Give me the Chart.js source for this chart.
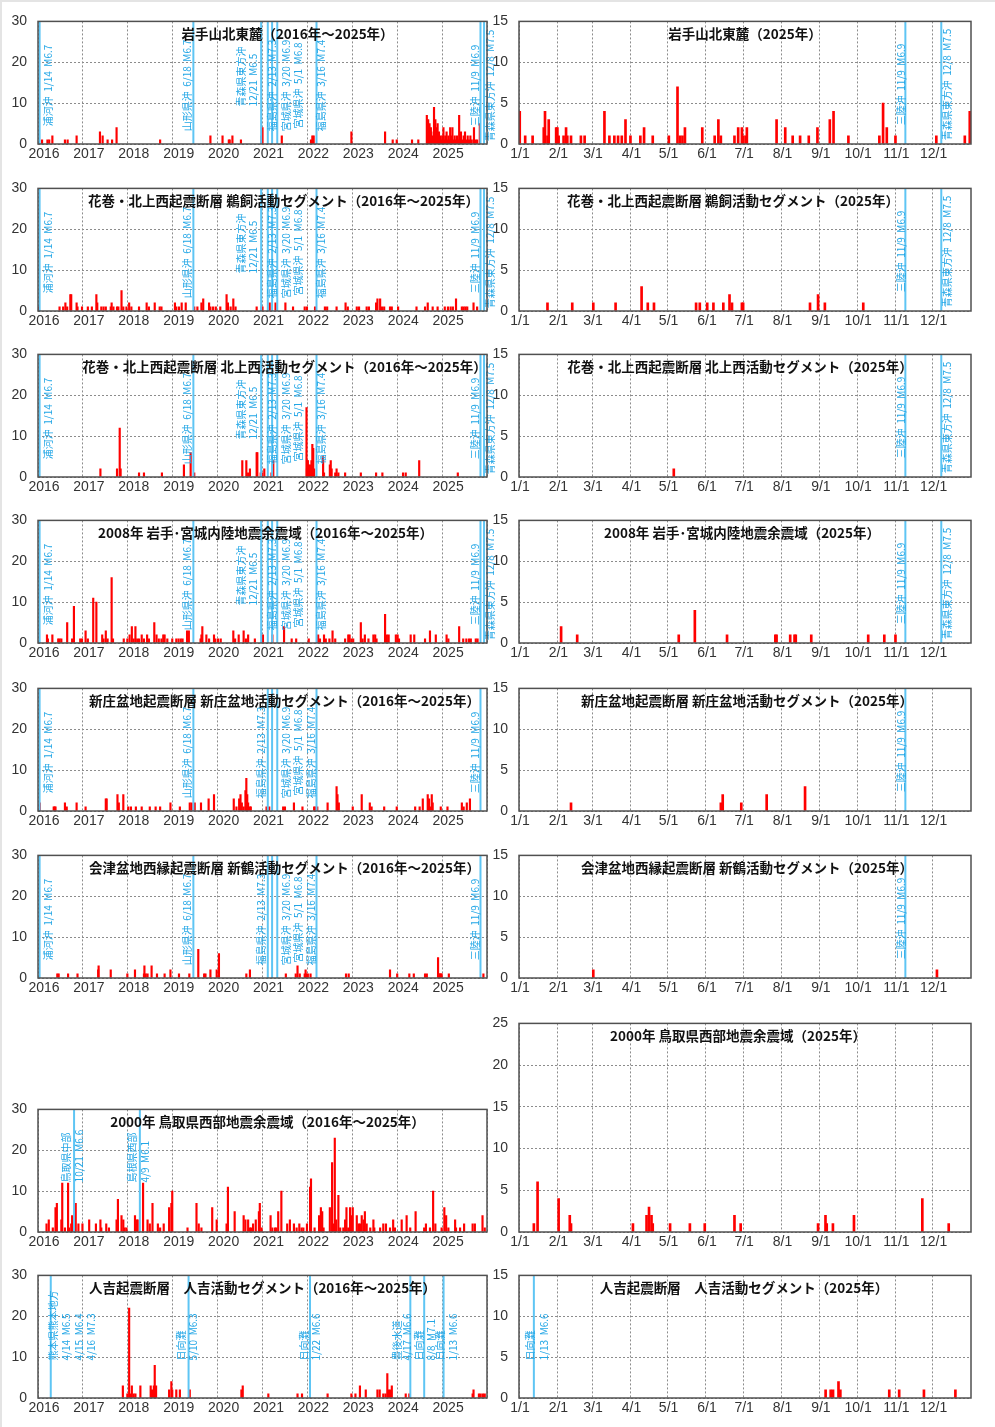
<!DOCTYPE html>
<html>
<head>
<meta charset="utf-8">
<script src="https://cdn.jsdelivr.net/npm/chart.js@4.4.1/dist/chart.umd.min.js"></script>
<style>
  body { margin: 0; background: #fff; width: 995px; height: 1427px; position: relative; overflow: hidden; }
  .edge { position: absolute; left: 0; top: 0; width: 993px; height: 1425px; border-left: 2px solid #e4e4e4; border-top: 2px solid #e4e4e4; }
  .box { position: absolute; }
</style>
</head>
<body>
<div class="edge"></div>
<script>
"use strict";

// axes
const yearTicks = [2016, 2017, 2018, 2019, 2020, 2021, 2022, 2023, 2024, 2025, 2026];
const monthDays = [0, 31, 59, 90, 120, 151, 181, 212, 243, 273, 304, 334];
const monthLabels = ["1/1", "2/1", "3/1", "4/1", "5/1", "6/1", "7/1", "8/1", "9/1", "10/1", "11/1", "12/1"];

// large earthquakes drawn as vertical lines
const tohokuQuakeDates = ["2016-01-14", "2019-06-18", "2020-12-21", "2021-02-13", "2021-03-20", "2021-05-01", "2022-03-16", "2025-11-09", "2025-12-08"];
const tohokuQuakeNames = [
  ["浦河沖  1/14  M6.7"], ["山形県沖  6/18  M6.7"], ["青森県東方沖", "12/21  M6.5"], ["福島県沖  2/13  M7.3"],
  ["宮城県沖  3/20  M6.9"], ["宮城県沖  5/1  M6.8"], ["福島県沖  3/16  M7.4"], ["三陸沖  11/9  M6.9"], ["青森県東方沖  12/8  M7.5"]
];
const tottoriQuakeDates = ["2016-10-21", "2018-04-09"];
const tottoriQuakeNames = [["鳥取県中部", "10/21  M6.6"], ["島根県西部", "4/9  M6.1"]];
const kyushuQuakeDates = ["2016-04-14", "2019-05-10", "2022-01-22", "2024-04-17", "2024-08-08", "2025-01-13"];
const kyushuQuakeNames = [
  ["熊本県熊本地方", "4/14  M6.5", "4/15  M6.4", "4/16  M7.3"], ["日向灘", "5/10  M6.3"], ["日向灘", "1/22  M6.6"],
  ["豊後水道", "4/17  M6.6"], ["日向灘", "8/8  M7.1"], ["日向灘", "1/13  M6.6"]
];

// daily counts, 2016-2025 panels: [decimal year, count]
const iwateDecade = [
  [2016.09,1],[2016.21,1],[2016.25,1],[2016.32,2],[2016.60,1],[2016.66,1],[2016.86,2],[2017.38,3],[2017.44,2],[2017.55,1],
  [2017.65,1],[2017.75,4],[2018.72,1],[2019.84,2],[2020.11,2],[2020.25,1],[2020.27,1],[2020.33,2],[2020.52,1],[2020.98,2],
  [2021.00,4],[2021.43,2],[2022.08,1],[2022.11,2],[2022.14,2],[2022.98,3],[2023.73,3],[2023.90,1],[2023.99,1],[2024.33,1],
  [2024.47,1],[2024.66,7],[2024.67,2],[2024.69,6],[2024.70,3],[2024.72,5],[2024.73,2],[2024.75,4],[2024.76,3],[2024.79,2],
  [2024.82,9],[2024.83,3],[2024.85,6],[2024.86,2],[2024.88,4],[2024.90,5],[2024.91,2],[2024.93,3],[2024.95,1],[2024.97,2],
  [2024.99,1],[2025.01,2],[2025.03,4],[2025.05,1],[2025.07,2],[2025.10,3],[2025.12,1],[2025.14,2],[2025.16,1],[2025.18,4],
  [2025.21,2],[2025.23,4],[2025.25,1],[2025.28,2],[2025.31,1],[2025.33,2],[2025.36,1],[2025.38,7],[2025.40,2],[2025.42,3],
  [2025.45,1],[2025.48,2],[2025.51,3],[2025.54,1],[2025.57,2],[2025.60,1],[2025.63,2],[2025.66,1],[2025.71,4],[2025.74,1],
  [2025.78,1],[2025.84,5]
];
const ukaiDecade = [
  [2016.02,1],[2016.48,1],[2016.56,1],[2016.61,2],[2016.65,1],[2016.72,4],[2016.74,4],[2016.86,2],[2016.88,1],[2016.98,1],
  [2017.11,1],[2017.20,1],[2017.30,4],[2017.32,2],[2017.41,1],[2017.46,1],[2017.51,1],[2017.62,1],[2017.64,2],[2017.68,1],
  [2017.76,1],[2017.79,1],[2017.86,5],[2017.90,1],[2017.97,1],[2018.03,2],[2018.08,1],[2018.25,1],[2018.42,2],[2018.47,1],
  [2018.60,2],[2018.71,1],[2018.75,1],[2019.05,2],[2019.08,1],[2019.14,1],[2019.20,2],[2019.29,2],[2019.48,1],[2019.55,1],
  [2019.64,2],[2019.68,3],[2019.81,2],[2019.84,1],[2019.90,1],[2019.96,1],[2020.06,1],[2020.20,4],[2020.23,2],[2020.29,1],
  [2020.35,3],[2020.40,1],[2020.87,1],[2020.98,1],[2021.00,1],[2021.16,2],[2021.29,2],[2021.51,2],[2021.68,1],[2021.94,1],
  [2021.99,1],[2022.17,1],[2022.39,1],[2022.44,1],[2022.65,1],[2022.85,2],[2022.90,1],[2023.10,1],[2023.15,1],[2023.32,1],
  [2023.37,1],[2023.53,2],[2023.56,3],[2023.62,3],[2023.66,1],[2023.71,1],[2023.84,1],[2023.88,1],[2024.02,1],[2024.43,1],
  [2024.62,1],[2024.68,2],[2024.79,1],[2024.90,1],[2025.06,1],[2025.13,1],[2025.19,1],[2025.24,1],[2025.31,3],[2025.44,1],
  [2025.48,1],[2025.52,1],[2025.56,1],[2025.70,2],[2025.78,1]
];
const kitakamiDecade = [
  [2017.39,2],[2017.76,2],[2017.82,12],[2017.84,2],[2018.25,1],[2018.36,1],[2018.76,1],[2019.25,3],[2019.40,6],[2019.48,1],
  [2020.55,4],[2020.64,4],[2020.68,1],[2020.72,2],[2020.87,6],[2020.885,6],[2020.96,1],[2020.99,1],[2021.04,2],[2021.20,1],
  [2021.24,4],[2021.98,17],[2021.99,2],[2022.00,4],[2022.01,4],[2022.02,3],[2022.04,2],[2022.06,3],[2022.09,4],[2022.11,8],
  [2022.13,7],[2022.15,2],[2022.35,5],[2022.37,1],[2022.50,3],[2022.52,4],[2022.54,2],[2022.62,1],[2022.65,2],[2022.69,1],
  [2022.84,1],[2023.19,1],[2023.53,1],[2023.67,1],[2024.13,1],[2024.19,1],[2024.49,4],[2025.35,1]
];
const iwamiyaDecade = [
  [2016.20,2],[2016.22,1],[2016.32,2],[2016.45,1],[2016.48,1],[2016.52,1],[2016.65,5],[2016.76,1],[2016.80,9],[2016.94,1],
  [2016.98,1],[2017.06,3],[2017.11,1],[2017.23,11],[2017.30,10],[2017.43,2],[2017.46,1],[2017.51,3],[2017.55,1],[2017.64,16],
  [2017.67,1],[2017.91,1],[2017.99,1],[2018.04,2],[2018.09,4],[2018.13,1],[2018.17,4],[2018.21,1],[2018.25,1],[2018.31,2],
  [2018.36,1],[2018.43,2],[2018.47,1],[2018.59,5],[2018.64,2],[2018.69,1],[2018.75,1],[2018.79,2],[2018.82,2],[2018.88,1],
  [2018.99,1],[2019.08,1],[2019.13,1],[2019.18,1],[2019.22,1],[2019.32,3],[2019.36,3],[2019.62,1],[2019.64,2],[2019.66,4],
  [2019.75,2],[2019.81,1],[2019.92,2],[2019.95,1],[2020.01,1],[2020.07,1],[2020.35,3],[2020.39,1],[2020.47,2],[2020.58,3],
  [2020.63,1],[2020.68,2],[2020.83,1],[2021.01,2],[2021.22,2],[2021.48,4],[2021.65,1],[2021.75,1],[2022.03,1],[2022.24,2],
  [2022.28,1],[2022.37,2],[2022.41,1],[2022.49,1],[2022.56,3],[2022.62,1],[2022.84,1],[2022.91,2],[2022.94,2],[2022.98,1],
  [2023.02,1],[2023.19,5],[2023.23,1],[2023.28,2],[2023.36,1],[2023.47,2],[2023.51,2],[2023.54,1],[2023.73,7],[2023.77,2],
  [2023.81,2],[2023.97,2],[2024.01,2],[2024.04,1],[2024.30,2],[2024.38,2],[2024.62,1],[2024.73,3],[2024.86,2],[2025.10,2],
  [2025.14,1],[2025.38,4],[2025.47,1],[2025.54,1],[2025.60,1],[2025.64,1],[2025.75,1],[2025.79,1]
];
const shinjoDecade = [
  [2016.04,2],[2016.35,1],[2016.37,1],[2016.39,1],[2016.60,2],[2016.64,1],[2016.86,2],[2017.06,1],[2017.51,3],[2017.53,3],
  [2017.77,4],[2017.80,2],[2017.90,4],[2018.01,1],[2018.07,1],[2018.18,1],[2018.31,1],[2018.49,1],[2018.62,1],[2018.72,1],
  [2018.95,2],[2019.16,1],[2019.38,2],[2019.42,2],[2019.49,2],[2019.63,2],[2019.80,3],[2019.92,4],[2020.36,3],[2020.42,1],
  [2020.48,3],[2020.51,4],[2020.54,2],[2020.58,1],[2020.62,5],[2020.64,8],[2020.66,4],[2020.68,2],[2020.72,1],[2020.74,1],
  [2021.09,1],[2021.15,1],[2021.46,1],[2021.50,1],[2021.70,2],[2021.89,1],[2022.15,1],[2022.18,1],[2022.22,1],[2022.45,2],
  [2022.65,6],[2022.67,4],[2022.70,2],[2023.01,1],[2023.21,4],[2023.39,2],[2023.43,1],[2023.71,1],[2023.99,1],[2024.40,1],
  [2024.50,1],[2024.57,3],[2024.68,4],[2024.71,3],[2024.73,1],[2024.77,4],[2024.79,2],[2024.97,1],[2025.12,1],[2025.44,2],
  [2025.48,1],[2025.55,2],[2025.62,3]
];
const aizuDecade = [
  [2016.43,1],[2016.46,1],[2016.67,1],[2016.88,1],[2017.34,2],[2017.35,3],[2017.62,2],[2017.99,1],[2018.16,2],[2018.36,1],
  [2018.37,3],[2018.40,1],[2018.44,1],[2018.53,3],[2018.65,1],[2018.82,1],[2018.95,2],[2019.14,1],[2019.37,1],[2019.57,7],
  [2019.70,1],[2019.73,1],[2019.84,2],[2019.98,2],[2020.03,6],[2020.64,1],[2020.72,2],[2021.52,1],[2021.74,1],[2021.78,3],
  [2021.83,1],[2021.94,1],[2021.96,2],[2021.97,1],[2022.01,1],[2022.07,1],[2022.86,1],[2022.92,1],[2023.84,2],[2024.00,1],
  [2024.27,1],[2024.37,1],[2024.62,1],[2024.66,1],[2024.91,5],[2024.93,1],[2024.95,1],[2024.97,1],[2024.99,1],[2025.15,1],
  [2025.92,1]
];
const tottoriDecade = [
  [2016.19,2],[2016.24,3],[2016.33,1],[2016.39,6],[2016.42,7],[2016.52,3],[2016.54,12],[2016.60,1],[2016.67,12],[2016.69,1],
  [2016.74,2],[2016.76,4],[2016.84,7],[2016.90,2],[2016.99,2],[2017.14,3],[2017.29,2],[2017.39,3],[2017.41,1],[2017.52,2],
  [2017.58,1],[2017.75,3],[2017.78,8],[2017.86,4],[2017.90,3],[2017.93,1],[2017.97,1],[2018.16,4],[2018.20,3],[2018.22,3],
  [2018.34,12],[2018.44,3],[2018.49,2],[2018.55,7],[2018.67,2],[2018.72,1],[2018.80,2],[2018.92,6],[2018.97,7],[2018.99,10],
  [2019.33,1],[2019.53,7],[2019.58,2],[2019.64,1],[2019.88,6],[2019.98,3],[2020.20,2],[2020.23,11],[2020.38,5],[2020.58,4],
  [2020.62,3],[2020.68,3],[2020.72,1],[2020.75,1],[2020.79,2],[2020.85,3],[2020.92,5],[2020.94,7],[2020.98,1],[2021.18,4],
  [2021.22,1],[2021.28,1],[2021.31,1],[2021.35,5],[2021.42,10],[2021.55,2],[2021.61,3],[2021.70,2],[2021.76,1],[2021.82,2],
  [2021.87,1],[2021.91,1],[2021.99,2],[2022.06,11],[2022.08,13],[2022.16,1],[2022.26,4],[2022.30,6],[2022.33,5],[2022.36,1],
  [2022.50,6],[2022.55,17],[2022.57,2],[2022.61,23],[2022.64,3],[2022.69,9],[2022.73,1],[2022.80,1],[2022.84,3],[2022.87,6],
  [2022.91,1],[2022.95,6],[2022.99,4],[2023.01,6],[2023.10,4],[2023.14,2],[2023.17,2],[2023.21,4],[2023.25,3],[2023.28,5],
  [2023.32,2],[2023.40,1],[2023.47,3],[2023.49,1],[2023.62,1],[2023.69,2],[2023.75,2],[2023.84,1],[2023.91,3],[2023.95,1],
  [2024.10,3],[2024.21,4],[2024.29,1],[2024.41,5],[2024.60,1],[2024.64,2],[2024.73,1],[2024.80,10],[2024.85,2],[2024.99,1],
  [2025.05,6],[2025.09,4],[2025.14,1],[2025.29,3],[2025.31,1],[2025.40,1],[2025.49,2],[2025.68,2],[2025.73,2],[2025.90,4],
  [2025.95,1]
];
const hitoyoshiDecade = [
  [2017.89,3],[2017.99,1],[2018.03,22],[2018.06,1],[2018.09,3],[2018.13,1],[2018.17,1],[2018.28,3],[2018.51,3],[2018.54,2],
  [2018.58,3],[2018.60,8],[2018.63,3],[2018.92,2],[2018.97,4],[2018.99,2],[2019.08,2],[2019.16,2],[2019.38,2],[2020.53,2],
  [2020.56,3],[2021.13,1],[2021.78,1],[2021.88,1],[2022.45,1],[2022.98,1],[2023.07,1],[2023.17,3],[2023.30,2],[2023.56,2],
  [2023.61,2],[2023.69,1],[2023.74,1],[2023.78,6],[2023.80,2],[2023.84,2],[2023.88,3],[2024.19,1],[2024.27,1],[2025.68,1],
  [2025.70,2],[2025.82,1],[2025.86,1],[2025.91,1],[2025.95,1]
];

// daily counts, 2025 panels: [days after 1/1, count]
const iwate2025 = [
  [0.6,4],[5,1],[11,1],[20,2],[21,4],[23,1],[24,3],[30,2],[31,2],[32,1],[36,1],[38,2],[39,1],[42,1],[50,1],[53,1],
  [69,4],[73,1],[77,1],[80,1],[83,1],[86,3],[90,1],[98,1],[101,2],[108,1],[121,1],[128,7],[130,1],[132,1],[134,2],
  [148,2],[158,1],[161,3],[163,1],[174,1],[177,2],[180,2],[181,1],[183,1],[184,2],[208,3],[215,2],[221,1],[227,1],
  [234,1],[241,2],[251,3],[254,4],[266,1],[291,1],[294,5],[297,2],[304,1],[337,1],[360,1],[364,4]
];
const ukai2025 = [
  [23,1],[43,1],[60,1],[78,1],[99,3],[104,1],[109,1],[143,1],[146,1],[152,1],[157,1],[165,1],[170,2],[172,1],
  [180,1],[181,1],[235,1],[241.5,2],[247,1],[278,1]
];
const kitakami2025 = [[125,1]];
const iwamiya2025 = [
  [34,2],[47,1],[129,1],[142,4],[168,1],[207,1],[208,1],[219,1],[222.5,1],[223.5,1],[236,1],[282,1],[295,1],[304,1]
];
const shinjo2025 = [[42,1],[163,1],[164.5,2],[179.5,1],[200,2],[231,3]];
const aizu2025 = [[60,1],[337.5,1]];
const tottori2025 = [
  [12,1],[15,6],[32,4],[41,2],[42,1],[92,1],[103,2],[105,3],[107,2],[108,1],[122,1],[138,1],[150,1],[174,2],
  [179,1],[241.5,1],[247.5,2],[248.5,1],[253.5,1],[270.5,2],[325.7,4],[347,1]
];
const hitoyoshi2025 = [[247.6,1],[251.7,1],[253.6,1],[258,2],[259.5,1],[299,1],[307,1],[327,1],[352.4,1]];

// where each quake label sits next to its line (px)
const tohokuDecadeA = { dates: tohokuQuakeDates, names: tohokuQuakeNames, idx: [0, 1, 2, 3, 4, 5, 6, 7, 8],
  dx: [[8.7], [-6.2], [-19.5, -7.9], [4.2], [13.9], [21], [5.2], [-5.5], [5.9]], mid: 64, bottom: 85 };
const tohokuDecadeB = { dates: tohokuQuakeDates, names: tohokuQuakeNames, idx: [0, 1, 3, 4, 5, 6, 7],
  dx: [[8.7], [-6.2], [-6.1], [13.9], [21], [-4.8], [-5.5]], mid: 64, bottom: 85 };
const tohokuYearA = { dates: tohokuQuakeDates, names: tohokuQuakeNames, idx: [7, 8], dx: [[-4], [6.4]], mid: 63, bottom: 85 };
const tohokuYearB = { dates: tohokuQuakeDates, names: tohokuQuakeNames, idx: [7], dx: [[-4]], mid: 63, bottom: 85 };
const tottoriDecadeQ = { dates: tottoriQuakeDates, names: tottoriQuakeNames, idx: [0, 1], dx: [[-7.4, 5.2], [-8.1, 5.2]], mid: 64, bottom: 73 };
const kyushuDecadeQ = { dates: kyushuQuakeDates, names: kyushuQuakeNames, idx: [0, 1, 2, 3, 4, 5],
  dx: [[2, 15, 28, 40], [-7, 4.6], [-6, 6.7], [-13.6, -3], [-5.2, 7.5], [-3.6, 9.7]], mid: 64, bottom: 85 };
const kyushuYearQ = { dates: kyushuQuakeDates, names: kyushuQuakeNames, idx: [5], dx: [[-4, 10]], mid: 64, bottom: 85 };

const LX = 38, RX = 519, LW = 449, RW = 452;
const panels = [
  { title: "岩手山北東麓（2016年～2025年）", counts: iwateDecade, kind: "decade", l: LX, t: 14, w: LW, h: 130, ymax: 30, step: 10, quakes: tohokuDecadeA, titleDx: 25 },
  { title: "岩手山北東麓（2025年）", counts: iwate2025, kind: "year", l: RX, t: 14, w: RW, h: 130, ymax: 15, step: 5, quakes: tohokuYearA, titleDx: 0 },
  { title: "花巻・北上西起震断層 鵜飼活動セグメント（2016年～2025年）", counts: ukaiDecade, kind: "decade", l: LX, t: 181, w: LW, h: 130, ymax: 30, step: 10, quakes: tohokuDecadeA, titleDx: 21 },
  { title: "花巻・北上西起震断層 鵜飼活動セグメント（2025年）", counts: ukai2025, kind: "year", l: RX, t: 181, w: RW, h: 130, ymax: 15, step: 5, quakes: tohokuYearA, titleDx: -12 },
  { title: "花巻・北上西起震断層 北上西活動セグメント（2016年～2025年）", counts: kitakamiDecade, kind: "decade", l: LX, t: 347, w: LW, h: 130, ymax: 30, step: 10, quakes: tohokuDecadeA, titleDx: 22 },
  { title: "花巻・北上西起震断層 北上西活動セグメント（2025年）", counts: kitakami2025, kind: "year", l: RX, t: 347, w: RW, h: 130, ymax: 15, step: 5, quakes: tohokuYearA, titleDx: -5 },
  { title: "2008年 岩手･宮城内陸地震余震域（2016年～2025年）", counts: iwamiyaDecade, kind: "decade", l: LX, t: 513, w: LW, h: 130, ymax: 30, step: 10, quakes: tohokuDecadeA, titleDx: 3 },
  { title: "2008年 岩手･宮城内陸地震余震域（2025年）", counts: iwamiya2025, kind: "year", l: RX, t: 513, w: RW, h: 130, ymax: 15, step: 5, quakes: tohokuYearA, titleDx: -3 },
  { title: "新庄盆地起震断層 新庄盆地活動セグメント（2016年～2025年）", counts: shinjoDecade, kind: "decade", l: LX, t: 681, w: LW, h: 130, ymax: 30, step: 10, quakes: tohokuDecadeB, titleDx: 22 },
  { title: "新庄盆地起震断層 新庄盆地活動セグメント（2025年）", counts: shinjo2025, kind: "year", l: RX, t: 681, w: RW, h: 130, ymax: 15, step: 5, quakes: tohokuYearB, titleDx: 2 },
  { title: "会津盆地西縁起震断層 新鶴活動セグメント（2016年～2025年）", counts: aizuDecade, kind: "decade", l: LX, t: 848, w: LW, h: 130, ymax: 30, step: 10, quakes: tohokuDecadeB, titleDx: 22 },
  { title: "会津盆地西縁起震断層 新鶴活動セグメント（2025年）", counts: aizu2025, kind: "year", l: RX, t: 848, w: RW, h: 130, ymax: 15, step: 5, quakes: tohokuYearB, titleDx: 2 },
  { title: "2000年 鳥取県西部地震余震域（2016年～2025年）", counts: tottoriDecade, kind: "decade", l: LX, t: 1102, w: LW, h: 130, ymax: 30, step: 10, quakes: tottoriDecadeQ, titleDx: 5 },
  { title: "2000年 鳥取県西部地震余震域（2025年）", counts: tottori2025, kind: "year", l: RX, t: 1016, w: RW, h: 216, ymax: 25, step: 5, quakes: null, titleDx: -7 },
  { title: "人吉起震断層　人吉活動セグメント（2016年～2025年）", counts: hitoyoshiDecade, kind: "decade", l: LX, t: 1268, w: LW, h: 130, ymax: 30, step: 10, quakes: kyushuDecadeQ, titleDx: 0 },
  { title: "人吉起震断層　人吉活動セグメント（2025年）", counts: hitoyoshi2025, kind: "year", l: RX, t: 1268, w: RW, h: 130, ymax: 15, step: 5, quakes: kyushuYearQ, titleDx: -1 }
];

const TICK_FONT = '"Liberation Sans", sans-serif';
const JP_FONT = '"Noto Sans CJK JP", sans-serif';

function yearFrac(s) {
  const [y, m, d] = s.split("-").map(Number);
  const t0 = Date.UTC(y, 0, 1), t1 = Date.UTC(y + 1, 0, 1);
  return y + (Date.UTC(y, m - 1, d) - t0) / (t1 - t0);
}
function dayOfYear(s) {
  const [y, m, d] = s.split("-").map(Number);
  return (Date.UTC(y, m - 1, d) - Date.UTC(y, 0, 1)) / 864e5;
}

function decorFor(p) {
  return {
    id: "decor",
    afterDatasetsDraw(chart) {
      const ctx = chart.ctx;
      const a = chart.chartArea;
      const x = chart.scales.x;
      const q = p.quakes;
      ctx.save();
      if (q) {
        const toX = p.kind === "decade" ? yearFrac : dayOfYear;
        const px = q.idx.map(i => x.getPixelForValue(toX(q.dates[i])));
        ctx.strokeStyle = "#5ec5f4";
        ctx.lineWidth = 2;
        px.forEach(v => {
          ctx.beginPath();
          ctx.moveTo(v, a.top);
          ctx.lineTo(v, a.bottom);
          ctx.stroke();
        });
        ctx.fillStyle = "#22a6e6";
        ctx.font = "10px " + JP_FONT;
        ctx.textBaseline = "middle";
        q.idx.forEach((i, k) => {
          const lines = q.names[i];
          lines.forEach((txt, j) => {
            ctx.save();
            ctx.translate(px[k] + q.dx[k][j], a.top + (lines.length > 1 ? q.bottom : q.mid));
            ctx.rotate(-Math.PI / 2);
            ctx.textAlign = lines.length > 1 ? "left" : "center";
            ctx.fillText(txt, 0, 0);
            ctx.restore();
          });
        });
      }
      ctx.strokeStyle = "#505050";
      ctx.lineWidth = 1.5;
      ctx.strokeRect(a.left, a.top, a.right - a.left, a.bottom - a.top);
      ctx.fillStyle = "#111";
      ctx.font = "bold 13.5px " + JP_FONT;
      ctx.textAlign = "center";
      ctx.textBaseline = "middle";
      ctx.fillText(p.title, (a.left + a.right) / 2 + p.titleDx, a.top + 12);
      ctx.restore();
    }
  };
}

function drawPanel(p) {
  const decade = p.kind === "decade";
  const box = document.createElement("div");
  box.className = "box";
  box.style.left = (p.l - 40) + "px";
  box.style.top = (p.t - 12) + "px";
  const canvas = document.createElement("canvas");
  canvas.width = p.w + 54;
  canvas.height = p.h + 38;
  box.appendChild(canvas);
  document.body.appendChild(box);

  const tickFont = { family: TICK_FONT, size: 14 };
  new Chart(canvas.getContext("2d"), {
    type: "bar",
    data: {
      datasets: [{
        data: p.counts.map(c => ({ x: c[0], y: c[1] })),
        backgroundColor: "#ff0000",
        borderWidth: 0,
        barThickness: decade ? 1.5 : 2
      }]
    },
    options: {
      responsive: false,
      animation: false,
      layout: { padding: { left: 0, top: 12, right: 14, bottom: 0 } },
      plugins: { legend: { display: false }, tooltip: { enabled: false } },
      scales: {
        x: {
          type: "linear",
          min: decade ? 2016 : 0,
          max: decade ? 2026 : 365,
          offset: false,
          afterBuildTicks: s => { s.ticks = (decade ? yearTicks : monthDays).map(v => ({ value: v })); },
          afterFit: s => { s.height = 26; },
          ticks: {
            autoSkip: false, maxRotation: 0, minRotation: 0, padding: 2,
            labelOffset: decade ? 6 : 1, color: "#333", font: tickFont,
            callback: (v, i) => decade ? (v < 2026 ? String(v) : "") : monthLabels[i]
          },
          grid: { color: "#8c8c8c", drawTicks: false, offset: false },
          border: { display: false, dash: [2, 2] }
        },
        y: {
          min: 0,
          max: p.ymax,
          afterFit: s => { s.width = 40; },
          ticks: { stepSize: p.step, padding: 11, color: "#333", font: tickFont },
          grid: { color: "#8c8c8c", drawTicks: false },
          border: { display: false, dash: [2, 2] }
        }
      }
    },
    plugins: [decorFor(p)]
  });
}

panels.forEach(drawPanel);
</script>
</body>
</html>
